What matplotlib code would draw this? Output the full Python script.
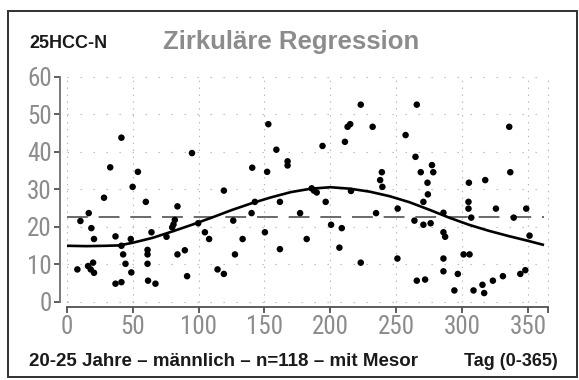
import numpy as np
from matplotlib import pyplot as plt
from matplotlib import font_manager
from matplotlib.patches import Rectangle

# Messwerte: Tag im Jahr und Konzentration
tag = [41.5, 95, 33, 54, 50, 223, 152.9, 213, 215, 232, 211, 194, 159, 140.7, 152,
       167.5, 167.5, 239, 237.7, 265.5, 335.6, 257, 264.5, 277, 268.5, 278, 336.4,
       273.6, 305, 317.4, 239.4, 273.9, 270.5, 304.7, 304.7, 306.8, 325.5, 339,
       348.5, 351, 285.7, 285.7, 287, 270.5, 276, 263.7, 251, 234.6, 185.8, 189.6,
       187.5, 196.4, 215.6, 177, 200.5, 208.6, 182, 206.8, 161.7, 161.7, 119.2,
       142.7, 140.2, 126.3, 150.3, 133.4, 127.6, 223, 114.4, 119.2, 28.3, 60, 84,
       16.7, 10.4, 18.7, 20.7, 37, 48.6, 41.5, 42.8, 64.3, 61.3, 61.3, 61.3, 75.7,
       80, 82, 81, 84, 89.6, 99.7, 104.8, 108, 8.1, 16.2, 20, 18.2, 20.7, 44.6, 49,
       37, 41.5, 61.7, 67.3, 91.3, 250.8, 265.5, 271.8, 285.7, 285.7, 296.6, 294,
       301, 305.5, 308.5, 315.3, 316.6, 323.2, 330.8, 344, 347.8]
wert = [43.7, 39.6, 35.8, 34.6, 30.6, 52.5, 47.3, 46.6, 47.3, 46.6, 42.6, 41.5, 40.5,
        35.7, 34.6, 37.4, 36.3, 34.5, 32.4, 52.5, 46.6, 44.4, 38.6, 36.4, 34.5, 34.5,
        34.5, 31.7, 31.7, 32.4, 30.6, 28.6, 26.6, 26.6, 24.8, 22.4, 24.8, 22.4, 24.8,
        17.6, 23.7, 18.5, 17.3, 20.5, 20.9, 21.6, 24.8, 23.6, 30.2, 29.1, 29.6, 26.6,
        29.5, 23.6, 20.5, 19.6, 16.7, 14.4, 26.6, 14.0, 29.6, 26.6, 23.6, 21.6, 18.5,
        16.7, 12.6, 10.4, 8.6, 7.4, 27.7, 26.6, 25.4, 23.6, 21.5, 19.6, 16.7, 17.4,
        16.7, 14.9, 12.6, 18.5, 13.8, 12.6, 10.1, 17.3, 19.8, 21.8, 20.6, 12.6, 13.7,
        20.9, 18.5, 16.7, 8.6, 9.5, 10.4, 8.6, 7.7, 10.1, 7.8, 4.8, 5.2, 5.6, 4.8,
        6.8, 11.5, 5.6, 5.9, 11.5, 8.1, 7.4, 3.0, 12.6, 12.6, 3.0, 4.5, 2.3, 5.6,
        6.8, 7.4, 8.4]

# Regressionskurve und Mesor
kurve_tag = [0, 15, 30, 40, 50, 65, 80, 95, 110, 125, 140, 155, 170, 185, 200, 215,
             230, 245, 260, 275, 290, 305, 320, 335, 350, 362]
kurve_wert = [14.9, 14.8, 14.9, 15.0, 15.7, 17.0, 18.7, 20.5, 22.4, 24.4, 26.2, 27.8,
              29.2, 30.1, 30.5, 30.1, 29.3, 28.1, 26.5, 24.5, 22.4, 20.5, 18.9, 17.5,
              16.2, 15.1]
mesor = 22.5

xticks = [0, 50, 100, 150, 200, 250, 300, 350]
yticks = [0, 10, 20, 30, 40, 50, 60]

names = {f.name for f in font_manager.fontManager.ttflist}
sans = 'Liberation Sans' if 'Liberation Sans' in names else 'DejaVu Sans'
plt.rcParams['font.family'] = [sans, 'DejaVu Sans']

# schmale Schrift fuer die Achsenbeschriftung suchen
narrow_file = None
for f in font_manager.fontManager.ttflist:
    fn = f.fname.lower()
    if ('narrow' in fn or 'condensed' in fn) and 'bold' not in fn and 'oblique' not in fn \
            and 'italic' not in fn and 'light' not in fn and 'mono' not in fn:
        narrow_file = f.fname
        if 'liberation' in fn:
            break
if narrow_file:
    tick_fp = font_manager.FontProperties(fname=narrow_file, size=18)
else:
    tick_fp = font_manager.FontProperties(family='DejaVu Sans', stretch='condensed', size=16)

W, H = 579, 380
fig = plt.figure(figsize=(W / 100, H / 100), dpi=100)

# Achsen in Pixeln: x 0..365 -> 66.7..548, y 0..60 -> 301.7..76.5
x0, x1, y0, y1 = 66.7, 548, 301.7, 76.5
ax = fig.add_axes([x0 / W, 1 - y0 / H, (x1 - x0) / W, (y0 - y1) / H])
ax.set_xlim(0, 365)
ax.set_ylim(0, 60)

grid = '#b4b4b4'
for y in yticks:
    ax.plot([0, 365], [y, y], color=grid, lw=0.8, dashes=(1.2, 10.5), zorder=1, clip_on=False)
for x in xticks + [365]:
    ax.plot([x, x], [0, 60], color=grid, lw=0.8, dashes=(1.2, 5.0), zorder=1, clip_on=False)

ax.plot([0, 362], [mesor, mesor], color='#505050', lw=1.2, dashes=(12.5, 6.5), zorder=2)
ax.plot(kurve_tag, kurve_wert, color='black', lw=1.9, zorder=3, solid_capstyle='butt')
ax.scatter(tag, wert, s=22, color='black', edgecolors='none', zorder=4, clip_on=False)

for s in ['top', 'right']:
    ax.spines[s].set_visible(False)
ax.spines['left'].set_position(('outward', 4.8))
ax.spines['bottom'].set_position(('outward', 3.6))
ax.spines['left'].set_bounds(0, 60)
ax.spines['bottom'].set_bounds(0, 365)
ax.spines['left'].set_color('#6e6e6e')
ax.spines['bottom'].set_color('#505050')
ax.spines['left'].set_linewidth(1.3)
ax.spines['bottom'].set_linewidth(1.3)

ax.set_xticks(xticks)
ax.set_yticks(yticks)
ax.set_xticks([365], minor=True)
ax.tick_params(axis='both', which='both', length=4, width=1.3, color='#505050',
               labelcolor='#8c8c8c', pad=2)
for lab in ax.get_xticklabels() + ax.get_yticklabels():
    lab.set_fontproperties(tick_fp)

fig.text(29 / W, 1 - 44 / H, '25HCC-N', fontsize=13, fontweight='bold',
         color='#1a1a1a', va='center', ha='left')
fig.text(163 / W, 1 - 42 / H, 'Zirkuläre Regression', fontsize=18.5, fontweight='bold',
         color='#8c8c8c', va='center', ha='left')
fig.text(29 / W, 1 - 362 / H, '20-25 Jahre – männlich – n=118 – mit Mesor',
         fontsize=13.5, fontweight='bold', color='#1a1a1a', va='center', ha='left')
fig.text(558 / W, 1 - 362 / H, 'Tag (0-365)', fontsize=13, fontweight='bold',
         color='#1a1a1a', va='center', ha='right')

fig.patches.append(Rectangle((8 / W, 1 - 377 / H), 569 / W, 366 / H,
                             transform=fig.transFigure, fill=False,
                             edgecolor='#303030', lw=1.4))

plt.savefig('out.png', dpi=100)
plt.close()
